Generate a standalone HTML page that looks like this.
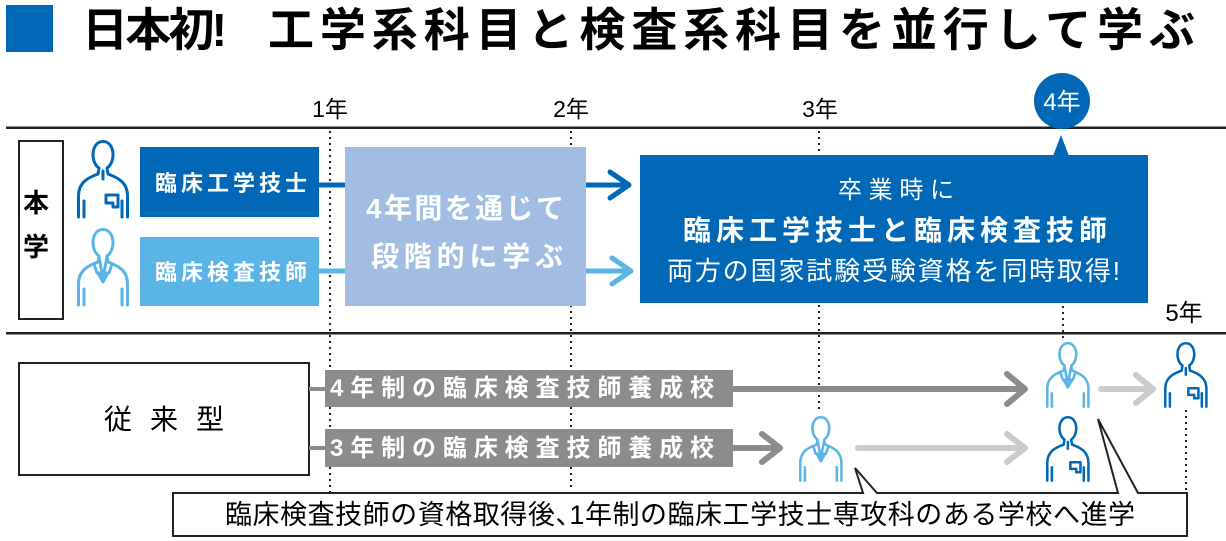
<!DOCTYPE html>
<html><head><meta charset="utf-8">
<style>
html,body{margin:0;padding:0;background:#fff;}
svg{display:block;}
text{font-family:"Liberation Sans","Noto Sans CJK JP",sans-serif;}
</style></head>
<body>
<svg width="1226" height="541" viewBox="0 0 1226 541" xmlns="http://www.w3.org/2000/svg">
<defs>
  <g id="pd" fill="none" stroke="#0068b7" stroke-width="3" stroke-linejoin="round" stroke-linecap="round">
    <path d="M21 34 L22 28 C13 22 14 1.5 26 1.5 C38 1.5 39 22 30 28 L31 34"/>
    <path d="M1.5 77 V56 C1.5 43 10 38 21 34 M31 34 C42 38 50.5 43 50.5 56 V77"/>
    <path d="M26 31 V39"/>
    <path d="M7 61 V77 M45 61 V77"/>
    <path d="M29 55 H41 V67 H36 V63 H29 Z"/>
  </g>
  <g id="pl" fill="none" stroke="#5ab4e6" stroke-width="3" stroke-linejoin="round" stroke-linecap="round">
    <path d="M21 34 L22 28 C13 22 14 1.5 26 1.5 C38 1.5 39 22 30 28 L31 34"/>
    <path d="M1.5 77 V56 C1.5 43 10 38 21 34 M31 34 C42 38 50.5 43 50.5 56 V77"/>
    <path d="M22 29 L26 50 M30 29 L26 50"/>
    <path d="M21 45 L31 45 L26 54 Z" fill="#5ab4e6"/>
    <path d="M17 36 L20 45 M35 36 L32 45"/>
    <path d="M7 61 V77 M45 61 V77"/>
  </g>
</defs>

<!-- Title -->
<rect x="6" y="5" width="47" height="47" fill="#0068b7"/>
<text x="82" y="46" font-size="46" font-weight="bold" textLength="145" lengthAdjust="spacing">日本初!</text>
<text x="268" y="46" font-size="46" font-weight="bold" textLength="927" lengthAdjust="spacing">工学系科目と検査系科目を並行して学ぶ</text>

<!-- Year labels -->
<text x="330" y="117" font-size="23" text-anchor="middle">1年</text>
<text x="571" y="117" font-size="23" text-anchor="middle">2年</text>
<text x="820" y="117" font-size="23" text-anchor="middle">3年</text>
<text x="1184" y="321" font-size="24" text-anchor="middle">5年</text>

<!-- dotted lines -->
<g stroke="#222" stroke-width="2" stroke-dasharray="2 4">
  <line x1="330" y1="131" x2="330" y2="492"/>
  <line x1="571" y1="131" x2="571" y2="490"/>
  <line x1="819" y1="131" x2="819" y2="410"/>
  <line x1="1063" y1="306" x2="1063" y2="338"/>
  <line x1="1186" y1="410" x2="1186" y2="492"/>
</g>

<!-- horizontal rules -->
<rect x="6" y="126.5" width="1220" height="2.5" fill="#222"/>
<rect x="6" y="332" width="1220" height="2.5" fill="#222"/>

<!-- 4年 circle + pointer -->
<circle cx="1062" cy="101" r="28" fill="#0068b7"/>
<text x="1062" y="110" font-size="24" fill="#fff" text-anchor="middle">4年</text>
<path d="M1053 156 L1069 156 L1061 135 Z" fill="#0068b7"/>

<!-- 本学 box -->
<rect x="19" y="141" width="44" height="178" fill="#fff" stroke="#222" stroke-width="2"/>
<text x="36" y="212" font-size="26" font-weight="bold" text-anchor="middle">本</text>
<text x="36" y="256" font-size="26" font-weight="bold" text-anchor="middle">学</text>

<!-- icons top -->
<use href="#pd" transform="translate(77,140)"/>
<use href="#pl" transform="translate(77,228)"/>

<!-- connectors & arrows top -->
<g fill="none" stroke-width="5" stroke-linecap="round" stroke-linejoin="round">
  <line x1="319" y1="185" x2="346" y2="185" stroke="#0068b7" stroke-linecap="butt"/>
  <line x1="319" y1="271" x2="346" y2="271" stroke="#5ab4e6" stroke-linecap="butt"/>
  <line x1="586" y1="185" x2="627" y2="185" stroke="#0068b7"/>
  <path d="M610 172 L629 185 L610 198" stroke="#0068b7"/>
  <line x1="586" y1="271" x2="629" y2="271" stroke="#5ab4e6"/>
  <path d="M612 258 L631 271 L612 284" stroke="#5ab4e6"/>
</g>

<!-- boxes top -->
<rect x="140" y="147" width="179" height="70" fill="#0068b7"/>
<text x="155" y="191" font-size="22" font-weight="bold" fill="#fff" textLength="152" lengthAdjust="spacing">臨床工学技士</text>
<rect x="140" y="237" width="179" height="69" fill="#5ab4e6"/>
<text x="155" y="280" font-size="22" font-weight="bold" fill="#fff" textLength="152" lengthAdjust="spacing">臨床検査技師</text>

<rect x="345" y="147" width="241" height="159" fill="#a3bde2"/>
<text x="366" y="218" font-size="28" font-weight="bold" fill="#fff" textLength="198" lengthAdjust="spacing">4年間を通じて</text>
<text x="371" y="266" font-size="28" font-weight="bold" fill="#fff" textLength="192" lengthAdjust="spacing">段階的に学ぶ</text>

<rect x="640" y="155" width="508" height="148" fill="#0068b7"/>
<text x="838" y="198" font-size="24" fill="#fff" textLength="116" lengthAdjust="spacing">卒業時に</text>
<text x="683" y="240" font-size="28" font-weight="bold" fill="#fff" textLength="424" lengthAdjust="spacing">臨床工学技士と臨床検査技師</text>
<text x="667" y="280" font-size="26" fill="#fff" textLength="453" lengthAdjust="spacing">両方の国家試験受験資格を同時取得!</text>

<!-- bottom section -->
<rect x="19" y="363" width="290" height="112" fill="#fff" stroke="#222" stroke-width="2"/>
<text x="104" y="429" font-size="28" textLength="120" lengthAdjust="spacing">従来型</text>

<line x1="309" y1="389" x2="326" y2="389" stroke="#8c8c8c" stroke-width="4"/>
<line x1="309" y1="448" x2="326" y2="448" stroke="#8c8c8c" stroke-width="4"/>

<rect x="325" y="370" width="408" height="37" fill="#8c8c8c"/>
<text x="330" y="396" font-size="24" font-weight="bold" fill="#fff" textLength="384" lengthAdjust="spacing">4年制の臨床検査技師養成校</text>
<rect x="325" y="429" width="408" height="38" fill="#8c8c8c"/>
<text x="330" y="456" font-size="24" font-weight="bold" fill="#fff" textLength="384" lengthAdjust="spacing">3年制の臨床検査技師養成校</text>

<g fill="none" stroke-width="6" stroke-linecap="round" stroke-linejoin="round">
  <line x1="733" y1="389" x2="1023" y2="389" stroke="#8c8c8c" stroke-linecap="butt"/>
  <path d="M1007 374 L1025 389 L1007 404" stroke="#8c8c8c"/>
  <line x1="733" y1="448" x2="778" y2="448" stroke="#8c8c8c" stroke-linecap="butt"/>
  <path d="M762 434 L780 448 L762 462" stroke="#8c8c8c"/>
  <line x1="1101" y1="389" x2="1151" y2="389" stroke="#cbcbcb"/>
  <path d="M1136 375 L1153 389 L1136 403" stroke="#cbcbcb"/>
  <line x1="858" y1="448" x2="1023" y2="448" stroke="#cbcbcb"/>
  <path d="M1007 434 L1025 448 L1007 462" stroke="#cbcbcb"/>
</g>

<!-- bottom icons -->
<use href="#pl" transform="translate(1046,342) scale(0.84)"/>
<use href="#pd" transform="translate(1164,342) scale(0.84)"/>
<use href="#pl" transform="translate(799,416) scale(0.84)"/>
<use href="#pd" transform="translate(1046,416) scale(0.84)"/>

<!-- callout -->
<path d="M173 493 H863 L855 468 L877 493 H1118 L1098 419 L1138 493 H1187 V536 H173 Z" fill="#fff" stroke="#222" stroke-width="2" stroke-linejoin="miter"/>
<text x="225" y="524" font-size="27" textLength="910" lengthAdjust="spacing">臨床検査技師の資格取得後<tspan style="font-feature-settings:'halt'">、</tspan>1年制の臨床工学技士専攻科のある学校へ進学</text>
</svg>
</body></html>
